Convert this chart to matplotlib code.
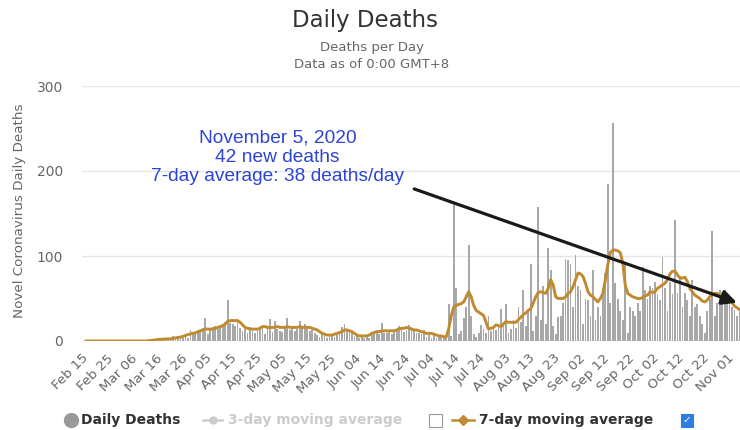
import pandas as pd
import matplotlib
matplotlib.use('Agg')
import matplotlib.pyplot as plt
from matplotlib.lines import Line2D
from matplotlib.patches import Rectangle

# daily deaths, Feb 15 .. Nov 5 2020
feb = [0, 0, 0, 0, 0, 0, 0, 0, 0, 0, 0, 0, 0, 0, 0]
mar = [0, 0, 0, 0, 0, 0, 0, 0, 0, 0,
       1, 0, 2, 1, 3, 1, 3, 2, 1, 3, 6, 4, 6, 5, 4, 7, 4, 13, 9, 8, 11]
apr = [12, 15, 27, 8, 15, 16, 18, 14, 17, 19,
       22, 48, 21, 20, 18, 24, 15, 12, 14, 9,
       16, 12, 10, 13, 17, 15, 8, 17, 26, 11]
may = [23, 14, 12, 11, 15, 27, 13, 18, 12, 14,
       24, 17, 20, 14, 12, 16, 9, 7, 5, 8,
       6, 4, 7, 6, 5, 8, 12, 17, 20, 14, 12]
jun = [9, 6, 8, 4, 5, 4, 6, 3, 7, 9,
       12, 8, 21, 9, 10, 13, 8, 11, 14, 18,
       17, 11, 13, 19, 16, 12, 9, 10, 8, 13]
jul = [5, 9, 4, 7, 3, 5, 6, 4, 3, 44,
       6, 162, 62, 8, 12, 27, 40, 113, 30, 8,
       5, 9, 19, 14, 10, 29, 12, 14, 13, 18, 38]
aug = [20, 43, 10, 14, 25, 15, 40, 22, 60, 18,
       35, 91, 12, 30, 158, 25, 65, 20, 109, 84,
       18, 8, 28, 30, 45, 97, 95, 91, 40, 101, 65]
sep = [60, 20, 50, 48, 30, 84, 25, 40, 30, 55,
       80, 185, 45, 257, 68, 50, 35, 25, 91, 10,
       40, 35, 30, 45, 35, 87, 60, 50, 65, 62]
oct_ = [70, 55, 48, 99, 62, 35, 70, 55, 142, 56,
        76, 40, 56, 48, 30, 72, 40, 44, 30, 20,
        9, 35, 50, 130, 29, 45, 60, 58, 60, 52, 48]
nov = [40, 36, 30, 35, 42]
daily = feb + mar + apr + may + jun + jul + aug + sep + oct_ + nov

# 7-day moving average as drawn in the reference
avg7 = [0, 0, 0, 0, 0, 0, 0, 0, 0, 0, 0, 0,
        0, 0, 0, 0, 0, 0, 0, 0, 0, 0, 0, 0,
        0, 0.3, 0.6, 1.0, 1.3, 1.9, 1.9, 2.1, 2.4, 2.6, 2.4, 3.1,
        3.6, 4.1, 4.7, 5.3, 6.6, 7.4, 8.4, 9.0, 9.6, 10.9,
        12, 13, 14, 14, 14, 14, 15, 16, 17, 18,
        20, 23, 24, 24, 24, 24, 22, 19, 16, 15,
        14, 14, 14, 14, 15, 17, 17, 16, 16, 16,
        16, 17, 16, 16, 16, 17, 16, 16, 16, 16,
        17, 16, 16, 16, 16, 15, 14, 13, 11, 9,
        8, 7, 7, 7, 8, 9, 10, 11, 13, 13,
        12, 11, 9, 7, 6, 6, 6, 6, 7, 9,
        10, 11, 11, 12, 12, 12, 12, 12, 12, 13,
        14, 15, 15, 16, 15, 14, 13, 13, 12, 11, 10,
        9, 9, 9, 8, 7, 6, 6, 5, 5, 15,
        30, 40, 42, 43, 44, 46, 52, 58, 52, 42,
        36, 34, 32, 30, 22, 14, 15, 16, 19, 18,
        17, 20, 23, 22, 22, 22,
        22, 25, 28, 31, 33, 36, 38, 45, 52, 57,
        58, 57, 56, 62, 72, 66, 52, 50, 50, 50,
        52, 56, 58, 64, 72, 80, 79, 76, 68, 58,
        54, 52, 49, 46, 50, 56, 72, 90, 104, 107,
        107, 106, 104, 92, 66, 56, 54, 52, 51, 50,
        50, 51, 53, 54, 58, 57,
        58, 62, 64, 66, 68, 72, 79, 82, 82, 78,
        74, 74, 75, 70, 62, 58, 54, 52, 50, 47,
        46, 48, 52, 54, 56, 56, 54, 52, 52, 50,
        48, 45, 41, 39, 37, 38]

dates = pd.date_range('2020-02-15', '2020-11-05')
x = list(range(len(dates)))
tick_pos = x[::10]
tick_labels = [d.strftime('%b %d') for d in dates[::10]]

W, H = 740, 430
fig = plt.figure(figsize=(W / 100, H / 100), dpi=100)
ax = fig.add_axes([82.3 / W, 89 / H, 664.7 / W, 255 / H])

ax.bar(x, daily, width=0.7, color='#a8a8a8', linewidth=0, zorder=2)
ax.plot(x, avg7, color='#c08a2e', lw=2.1, zorder=3)

ax.set_xlim(-1.5, 266)
ax.set_ylim(0, 300)
ax.set_yticks([0, 100, 200, 300])
ax.yaxis.grid(True, color='#e6e6e6', lw=1)
ax.set_axisbelow(True)
for s in ax.spines.values():
    s.set_visible(False)
ax.set_xticks(tick_pos)
ax.set_xticklabels(tick_labels, rotation=45, ha='right', va='center',
                   rotation_mode='anchor')
ax.tick_params(axis='x', length=0, pad=11, labelsize=9.6, labelcolor='#666666')
ax.tick_params(axis='y', length=0, pad=14, labelsize=10, labelcolor='#666666')

# annotation + arrow
ax.text(77, 216, 'November 5, 2020\n42 new deaths\n7-day average: 38 deaths/day',
        ha='center', va='center', color='#2c44d4', fontsize=13.8,
        family='Liberation Sans', linespacing=1.18)
ax.annotate('', xy=(263, 44), xytext=(131, 180),
            arrowprops=dict(arrowstyle='-|>', color='#1a1a1a', lw=2.3,
                            mutation_scale=22))

# titles
fig.text(365 / W, 1 - 20 / H, 'Daily Deaths', ha='center', va='center',
         fontsize=16.5, color='#333333')
fig.text(372 / W, 1 - 47 / H, 'Deaths per Day', ha='center', va='center',
         fontsize=9.5, color='#666666')
fig.text(372 / W, 1 - 64 / H, 'Data as of 0:00 GMT+8', ha='center', va='center',
         fontsize=9.5, color='#666666')
fig.text(20 / W, 1 - 211 / H, 'Novel Coronavirus Daily Deaths', rotation=90,
         ha='center', va='center', fontsize=9.7, color='#666666')

# legend (drawn by hand like the Highcharts one)
ly = 1 - 420 / H
fig.add_artist(Line2D([71 / W], [ly], marker='o', ms=10, color='#999999',
                      linestyle='none', transform=fig.transFigure))
fig.text(81 / W, ly, 'Daily Deaths', ha='left', va='center', fontsize=10,
         weight='bold', color='#333333')
fig.add_artist(Line2D([203 / W, 222 / W], [ly, ly], color='#cccccc', lw=1.8,
                      transform=fig.transFigure))
fig.add_artist(Line2D([212.5 / W], [ly], marker='o', ms=5, color='#cccccc',
                      transform=fig.transFigure))
fig.text(228 / W, ly, '3-day moving average', ha='left', va='center', fontsize=10,
         weight='bold', color='#cccccc')
fig.add_artist(Rectangle((429 / W, 1 - 427 / H), 13 / W, 13 / H, facecolor='white',
                         edgecolor='#999999', lw=0.8, transform=fig.transFigure))
fig.add_artist(Line2D([452 / W, 474 / W], [ly, ly], color='#c08a2e', lw=1.8,
                      transform=fig.transFigure))
fig.add_artist(Line2D([463 / W], [ly], marker='D', ms=5, color='#c08a2e',
                      transform=fig.transFigure))
fig.text(479 / W, ly, '7-day moving average', ha='left', va='center', fontsize=10,
         weight='bold', color='#333333')
fig.add_artist(Rectangle((681 / W, 1 - 427 / H), 12 / W, 13 / H, facecolor='#2f7de1',
                         edgecolor='#2f7de1', lw=0.8, transform=fig.transFigure))
fig.text(687 / W, ly, '\u2713', ha='center', va='center', fontsize=7.5,
         color='white')

fig.savefig('out.png', dpi=100)
